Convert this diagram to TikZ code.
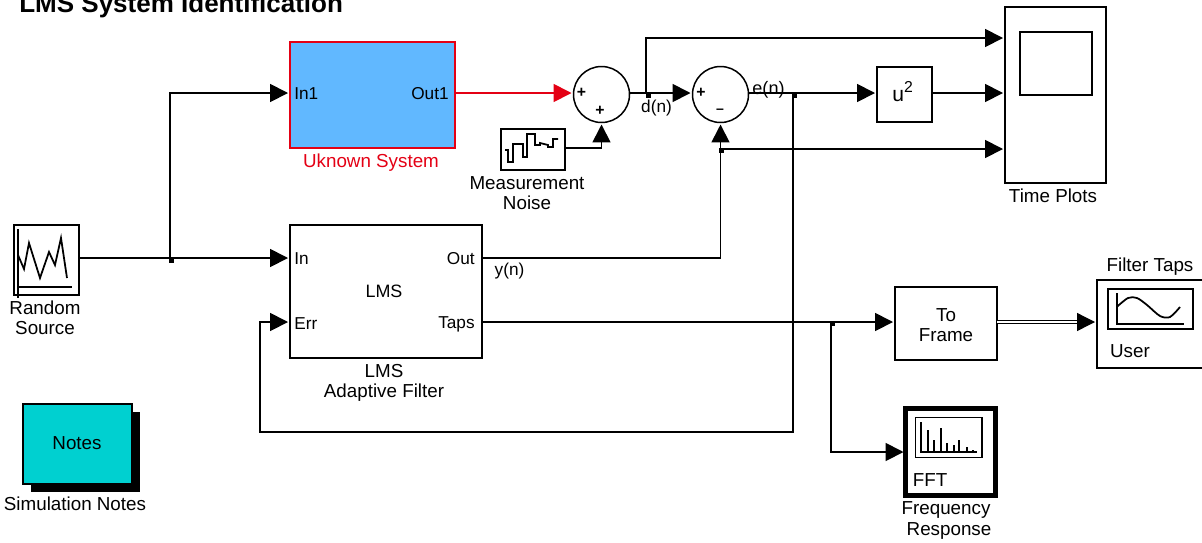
\documentclass[tikz,border=0pt]{standalone}
\usepackage{fontspec}
\setmainfont{Liberation Sans}
\usetikzlibrary{arrows.meta}
\definecolor{unkblue}{RGB}{97,184,255}
\definecolor{notecyan}{RGB}{0,208,208}
\definecolor{unkred}{RGB}{228,0,20}
\begin{document}
\begin{tikzpicture}[x=0.02cm,y=-0.02cm,
        font=\fontsize{10.7}{11.4}\selectfont,
        block/.style={rectangle,draw=black,line width=0.85pt,inner sep=0pt,outer sep=0pt},
        sumnode/.style={circle,draw=black,line width=0.85pt,minimum size=1.12cm,inner sep=0pt,outer sep=0pt},
        lbl/.style={inner sep=0pt,align=center},
        port/.style={lbl,font=\fontsize{9.8}{11}\selectfont},
        sign/.style={lbl,font=\fontsize{9}{10}\selectfont\bfseries},
        jdot/.style={rectangle,fill=black,minimum size=0.1cm,inner sep=0pt},
        wire/.style={line width=1pt},
        icon/.style={line width=1pt},
        arr/.style={wire,-{Triangle[length=0.36cm,width=0.36cm]},shorten >=0.04cm}]
\useasboundingbox (0,0) rectangle (1202,542);

\node[lbl,anchor=base west,font=\fontsize{14.8}{16}\selectfont\bfseries] (title) at (19,12) {LMS System Identification};

\node[block,minimum width=1.3cm,minimum height=1.4cm] (src) at (46.5,260) {};
\node[block,draw=unkred,fill=unkblue,minimum width=3.3cm,minimum height=2.12cm] (unk) at (372.5,95) {};
\node[block,minimum width=1.28cm,minimum height=0.82cm] (noise) at (533,149.5) {};
\node[sumnode] (sumd) at (601.5,94.5) {};
\node[sumnode] (sume) at (720.5,94.5) {};
\node[block,minimum width=3.84cm,minimum height=2.66cm] (lms) at (386,291.5) {};
\node[block,minimum width=1.1cm,minimum height=1.1cm] (sq) at (904.5,94.5) {};
\node[block,minimum width=2.02cm,minimum height=3.52cm] (plots) at (1055.5,95) {};
\node[block,minimum width=1.44cm,minimum height=1.26cm] (plotscr) at (1056,63.5) {};
\node[block,minimum width=2.04cm,minimum height=1.46cm] (frame) at (946,323.5) {};
\node[block,minimum width=2.2cm,minimum height=1.76cm] (taps) at (1152,324) {};
\node[block,minimum width=1.7cm,minimum height=0.8cm] (tapscr) at (1150.3,309) {};
\node[block,line width=2.4pt,minimum width=1.8cm,minimum height=1.74cm] (fft) at (950.5,452) {};
\node[block,minimum width=1.33cm,minimum height=0.8cm] (fftscr) at (948.5,437.7) {};
\fill[black] (31,412) rectangle (140,492);
\node[block,fill=notecyan,minimum width=2.18cm,minimum height=1.6cm] (notes) at (77.5,444) {};

\draw[icon] (18,229) -- (18,298) (18,287) -- (72,287);
\draw[icon] (18,255) -- (24,269) -- (29,243) -- (40,278) -- (49,252) -- (55,265) -- (61,238) -- (67,278);
\draw[icon] (505,150) -- (508,150) -- (508,162) -- (513,162) -- (513,144) -- (523,144) -- (523,157) -- (527,157) -- (527,134) -- (535,134) -- (535,145) -- (540,145) -- (540,143) -- (548,145) -- (548,147) -- (553,147) -- (553,139) -- (558,139);
\draw[icon] (1116.7,293) -- (1116.7,324) -- (1183.5,324);
\draw[icon] plot[smooth] coordinates {(1116.7,307) (1128,298) (1137,298) (1147,305) (1160,316) (1170,317) (1180,307)};
\draw[icon] (921,422) -- (921,452) -- (977,452);
\foreach \barx/\bartop in {928/430,934/440,941/428,947/443,954/445,959/440,967/447,973/450}
    \draw[icon] (\barx,452) -- (\barx,\bartop);

\coordinate (srcout) at (src.east |- 0,258);
\coordinate (lmsin) at (lms.west |- 0,258);
\coordinate (lmserr) at (lms.west |- 0,322);
\coordinate (lmsout) at (lms.east |- 0,258);
\coordinate (lmstaps) at (lms.east |- 0,322);
\coordinate (unkin) at (unk.west |- 0,93);
\coordinate (unkout) at (unk.east |- 0,93);
\coordinate (jsrc) at (170,258);
\coordinate (jd) at (646,93);
\coordinate (je) at (793,93);
\coordinate (jy) at (720.5,149);
\coordinate (jtaps) at (831,322);
\coordinate (plotsa) at (plots.west |- 0,38);
\coordinate (plotsb) at (plots.west |- 0,93);
\coordinate (plotsc) at (plots.west |- 0,149);

\draw[arr] (srcout) -- (lmsin);
\draw[arr] (jsrc) |- (unkin);
\draw[arr,draw=unkred,fill=unkred] (unkout) -- (sumd.west |- unkout);
\draw[arr] (noise.east |- 0,148) -| (sumd.south);
\draw[arr] (sumd.east |- je) -- (sume.west |- je);
\draw[arr] (jd) |- (plotsa);
\draw[arr] (sume.east |- je) -- (sq.west |- je);
\draw[arr] (sq.east |- je) -- (plotsb);
\draw[arr] (lmsout) -| (sume.south);
\draw[arr] (jy) -- (plotsc);
\draw[arr] (je) -- (793,432) -- (260,432) |- (lmserr);
\draw[arr] (lmstaps) -- (frame.west |- lmstaps);
\draw[arr] (jtaps) |- (fft.west);
\draw[line width=0.7pt,double,double distance=1pt,-{Triangle[length=0.36cm,width=0.36cm]},shorten >=0.04cm] (frame.east |- lmstaps) -- (taps.west |- lmstaps);

\node[jdot] (dotsrc) at (171,260) {};
\node[jdot] (dotd) at (648,95) {};
\node[jdot] (dote) at (794,95) {};
\node[jdot] (doty) at (721.5,150.5) {};
\node[jdot] (dottaps) at (832,323.5) {};

\node[lbl] (srclbl) at (45,317.5) {Random\\Source};
\node[lbl,text=unkred] (unklbl) at (371,163) {Uknown System};
\node[port,anchor=west] (unkinlbl) at (294,94) {In1};
\node[port,anchor=east] (unkoutlbl) at (449,94) {Out1};
\node[lbl] (noiselbl) at (527,193.5) {Measurement\\Noise};
\node[port,anchor=west] (lmsinlbl) at (294,259) {In};
\node[port,anchor=west] (lmserrlbl) at (294,324) {Err};
\node[port,anchor=east] (lmsoutlbl) at (475,259) {Out};
\node[port,anchor=east] (lmstapslbl) at (475,324) {Taps};
\node[lbl,font=\fontsize{10.2}{11}\selectfont] (lmstxt) at (384,291) {LMS};
\node[lbl] (lmslbl) at (384,383) {LMS\\Adaptive Filter};
\node[port] (ylbl) at (509.5,271) {y(n)};
\node[port] (dlbl) at (656.5,108) {d(n)};
\node[lbl,font=\fontsize{10.3}{11}\selectfont] (elbl) at (768.5,90) {e(n)};
\node[sign] (plusa) at (581.5,93) {+};
\node[sign] (plusb) at (600,111) {+};
\node[sign] (plusc) at (701,93) {+};
\node[sign,font=\fontsize{8}{9}\selectfont\bfseries] (minusa) at (720,111) {--};
\node[lbl,anchor=base west,font=\fontsize{12}{13}\selectfont] (sqlbl) at (892,101) {u\raisebox{4.7pt}{\fontsize{9}{10}\selectfont 2}};
\node[lbl] (plotslbl) at (1053,196) {Time Plots};
\node[lbl] (framelbl) at (946,325) {To\\Frame};
\node[lbl] (tapslbl) at (1150,267) {Filter Taps};
\node[lbl] (userlbl) at (1130,351) {User};
\node[lbl] (ffttxt) at (930,480) {FFT};
\node[lbl,font=\fontsize{10.7}{12}\selectfont] (fftlbl) at (946,520.5) {Frequency\\\hspace*{3.4pt}Response};
\node[lbl] (notestxt) at (77,443) {Notes};
\node[lbl] (noteslbl) at (75,504) {Simulation Notes};
\end{tikzpicture}
\end{document}
